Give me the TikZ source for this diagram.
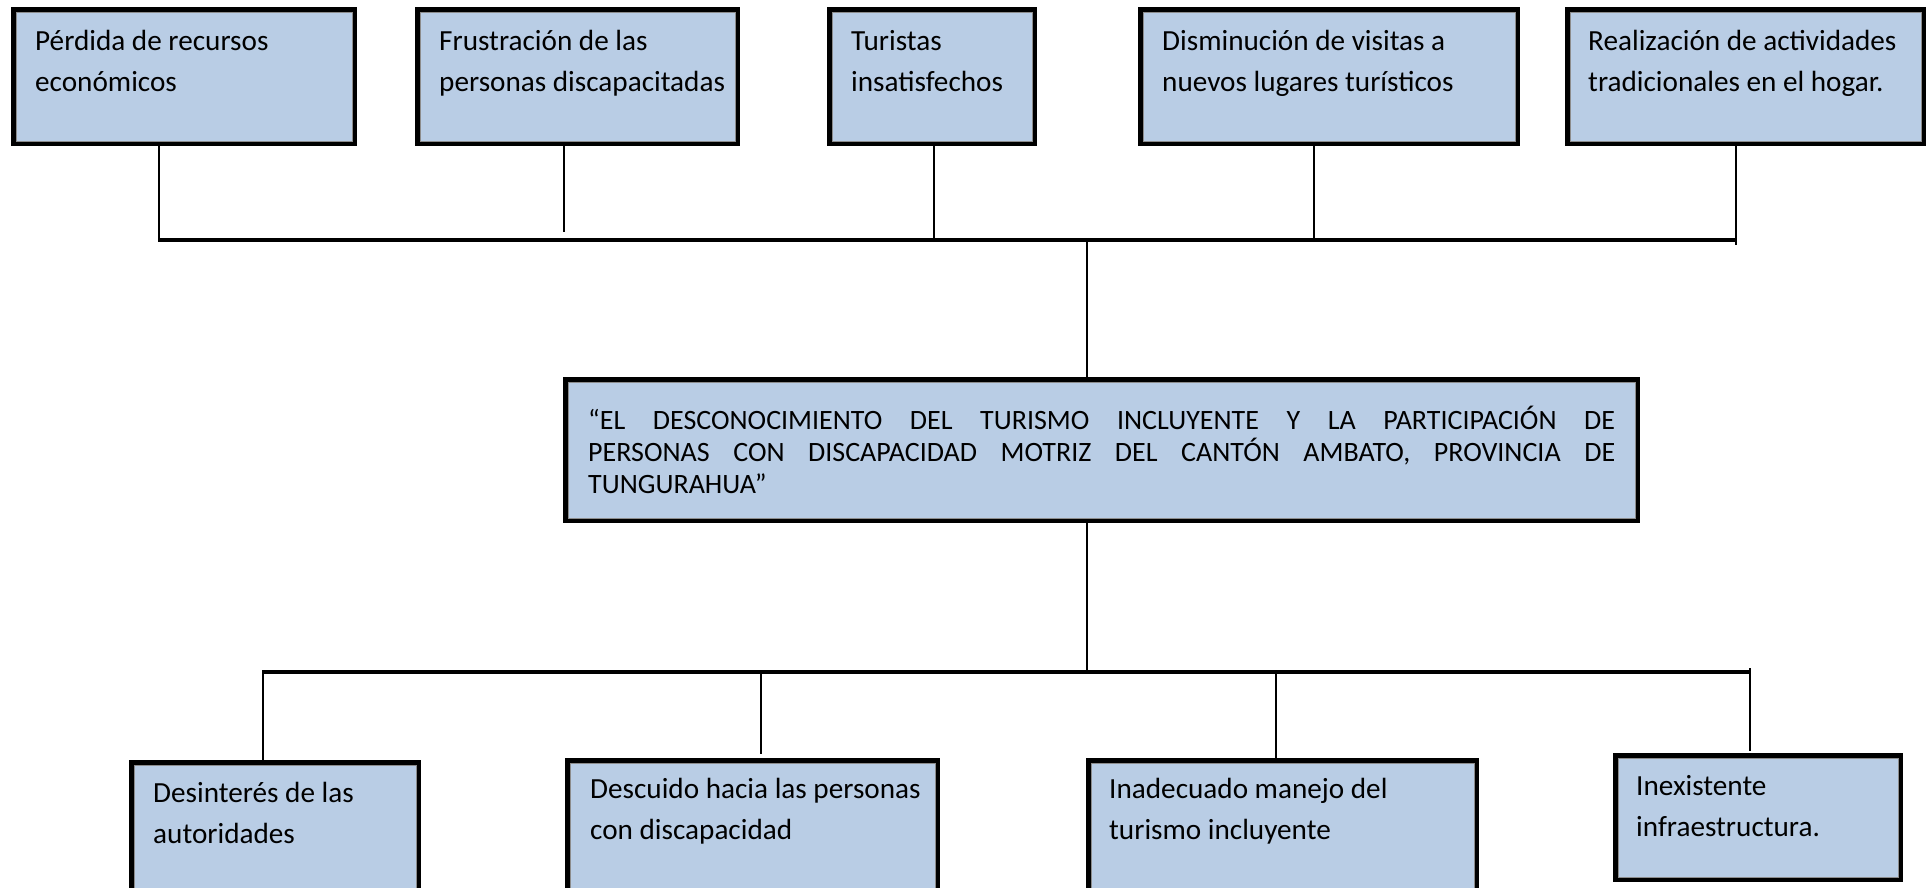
\documentclass[tikz,border=0pt]{standalone}
\usepackage{fontspec}
\setmainfont{Carlito}
\definecolor{boxblue}{RGB}{185,205,229}
\begin{document}
\begin{tikzpicture}[x=1pt,y=-1pt,
  cbox/.style={draw=black, line width=4.5pt, fill=boxblue, rectangle, inner sep=0pt, outer sep=2.25pt, anchor=north west},
  inedge/.style={draw=black!45, line width=0.8pt},
  btxt/.style={anchor=base west, inner sep=0pt, font=\fontsize{29.2}{41}\selectfont},
  conn/.style={line width=2pt, draw=black},
  bus/.style={line width=3.5pt, draw=black}]
\path[use as bounding box, fill=white] (0,0) rectangle (1930,887);
\clip (0,0) rectangle (1930,887);

% top boxes (effects)
\node[cbox, minimum width=341.5pt, minimum height=134.5pt] (t1) at (11,7) {};
\node[cbox, minimum width=320.5pt, minimum height=134.5pt] (t2) at (415,7) {};
\node[cbox, minimum width=205.5pt, minimum height=134.5pt] (t3) at (827,7) {};
\node[cbox, minimum width=377.5pt, minimum height=134.5pt] (t4) at (1138,7) {};
\node[cbox, minimum width=356.5pt, minimum height=134.5pt] (t5) at (1565,7) {};

\node[btxt] (t1x) at (35,50) {\parbox[t]{400pt}{Pérdida de recursos\\económicos}};
\node[btxt] (t2x) at (439,50) {\parbox[t]{400pt}{Frustración de las\\personas discapacitadas}};
\node[btxt] (t3x) at (851,50) {\parbox[t]{400pt}{Turistas\\insatisfechos}};
\node[btxt] (t4x) at (1162,50) {\parbox[t]{400pt}{Disminución de visitas a\\nuevos lugares turísticos}};
\node[btxt] (t5x) at (1588,50) {\parbox[t]{400pt}{Realización de actividades\\tradicionales en el hogar.}};

% central problem
\node[cbox, minimum width=1072.5pt, minimum height=141.5pt] (c) at (563,377) {};
\node[anchor=base west, inner sep=0pt, font=\fontsize{28}{32}\selectfont] (cx) at (588,429)
  {\parbox[t]{1027pt}{\hyphenpenalty=10000\spaceskip=0.22em plus 3em\relax
  “EL DESCONOCIMIENTO DEL TURISMO INCLUYENTE Y LA PARTICIPACIÓN DE\linebreak
  PERSONAS CON DISCAPACIDAD MOTRIZ DEL CANTÓN AMBATO, PROVINCIA DE\linebreak
  TUNGURAHUA”}};

% bottom boxes (causes)
\node[cbox, minimum width=287.5pt, minimum height=140.5pt] (b1) at (129,760) {};
\node[cbox, minimum width=370.5pt, minimum height=142.5pt] (b2) at (565,758) {};
\node[cbox, minimum width=388.5pt, minimum height=142.5pt] (b3) at (1086,758) {};
\node[cbox, minimum width=285.5pt, minimum height=124.5pt] (b4) at (1613,753) {};

% thin grey inner edge of the box borders
\foreach \n in {t1,t2,t3,t4,t5,c,b1,b2,b3,b4}
  \draw[inedge] ([shift={(4.9,4.9)}]\n.north west) rectangle ([shift={(-4.9,-4.9)}]\n.south east);

\node[btxt] (b1x) at (153,802) {\parbox[t]{400pt}{Desinterés de las\\autoridades}};
\node[btxt] (b2x) at (590,798) {\parbox[t]{400pt}{Descuido hacia las personas\\con discapacidad}};
\node[btxt] (b3x) at (1109,798) {\parbox[t]{400pt}{Inadecuado manejo del\\turismo incluyente}};
\node[btxt] (b4x) at (1636,795) {\parbox[t]{400pt}{Inexistente\\infraestructura.}};

% top connectors
\coordinate (j1) at (159,242);
\coordinate (j2) at (564,232);
\coordinate (j3) at (934,242);
\coordinate (j4) at (1314,242);
\coordinate (j5) at (1736,245);
\coordinate (busL) at (158,240);
\coordinate (busR) at (1736,240);
\draw[conn] (t1.south -| j1) -- (j1);
\draw[conn] (t2.south -| j2) -- (j2);
\draw[conn] (t3.south -| j3) -- (j3);
\draw[conn] (t4.south -| j4) -- (j4);
\draw[conn] (t5.south -| j5) -- (j5);
\draw[bus] (busL) -- (busR);

% central connectors
\coordinate (jc) at (1087,242);
\coordinate (jd) at (1087,672);
\draw[conn] (jc) -- (c.north -| jc);
\draw[conn] (c.south -| jd) -- (jd);

% bottom connectors
\coordinate (bbL) at (262,672);
\coordinate (bbR) at (1749,672);
\draw[bus] (bbL) -- (bbR);
\coordinate (k1) at (263,672);
\coordinate (k2) at (761,673);
\coordinate (k2e) at (761,754);
\coordinate (k3) at (1276,672);
\coordinate (k4) at (1750,668);
\coordinate (k4e) at (1750,751);
\draw[conn] (k1) -- (k1 |- b1.north);
\draw[conn] (k2) -- (k2e);
\draw[conn] (k3) -- (k3 |- b3.north);
\draw[conn] (k4) -- (k4e);
\end{tikzpicture}
\end{document}
